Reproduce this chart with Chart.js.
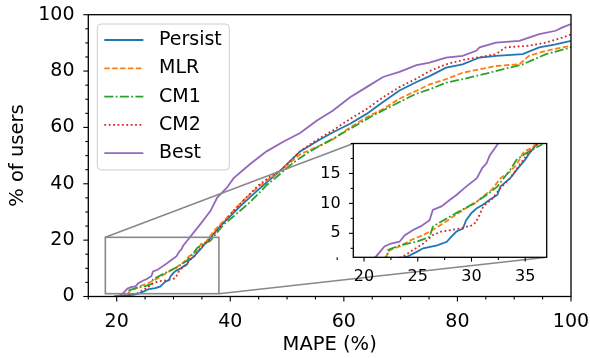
<!DOCTYPE html>
<html><head><meta charset="utf-8">
<script src="https://cdn.jsdelivr.net/npm/chart.js@4.4.0/dist/chart.umd.min.js"></script>
<style>
html,body{margin:0;padding:0;background:#fff;}
#wrap{position:relative;width:590px;height:358px;overflow:hidden;}
#main{position:absolute;left:0;top:0;}
#inset{position:absolute;left:300px;top:130px;z-index:2;}
</style></head><body>
<div id="wrap">
<canvas id="main" width="590" height="358"></canvas>
<canvas id="inset" width="260" height="165"></canvas>
</div>
<script>
// ---- data: [MAPE %, % of users] ----
const seriesNames = ['Persist', 'MLR', 'CM1', 'CM2', 'Best'];
const persist = [[19.8,0],[21.5,0.3],[23.0,0.7],[24.0,1.1],[24.9,1.9],[25.5,2.5],[26.8,3.0],[27.7,3.6],[28.0,4.2],[28.6,5.3],[29.2,5.8],[29.5,7.2],[30.0,8.4],[30.5,9.2],[31.1,9.8],[31.7,10.6],[32.4,11.4],[32.7,12.8],[33.6,14.2],[34.2,15.6],[35.0,17.3],[35.4,18.4],[35.9,19.5],[36.5,20.8],[38.2,25.0],[40.0,28.5],[42.0,32.5],[45.0,38.0],[47.0,41.5],[49.0,45.0],[52.3,51.5],[55.2,55.0],[58.1,58.3],[61.1,61.3],[64.0,64.8],[66.9,69.0],[69.8,73.1],[72.8,76.1],[75.1,78.2],[78.0,81.2],[80.9,82.4],[83.9,84.8],[86.8,85.4],[91.5,86.0],[94.4,88.4],[97.3,89.5],[100,90.7]];
const mlr = [[20.5,0],[22.0,1.0],[22.4,2.2],[23.3,2.8],[24.4,3.9],[25.5,4.7],[26.4,5.6],[27.4,6.7],[28.3,7.8],[29.2,8.9],[30.3,10.0],[31.1,11.2],[31.9,12.3],[32.7,14.2],[33.6,15.3],[34.2,16.5],[34.9,18.7],[35.7,19.3],[37.1,23.2],[39.4,28.0],[42.0,33.5],[45.0,39.0],[47.0,42.0],[49.0,45.0],[52.3,50.5],[55.2,53.0],[58.1,55.8],[61.1,60.0],[64.0,63.6],[66.9,66.5],[69.8,70.2],[72.8,73.0],[75.1,75.3],[78.0,77.1],[80.9,79.4],[86.8,81.8],[90.9,82.4],[92.6,85.4],[95.6,87.2],[100,89.0]];
const cm1 = [[20.0,0],[21.5,0.5],[22.2,1.1],[22.2,2.2],[23.3,3.0],[24.9,3.6],[26.1,4.4],[26.4,6.1],[27.4,7.2],[28.3,8.1],[29.4,9.2],[30.5,10.3],[31.4,11.4],[32.4,12.8],[33.0,14.2],[33.6,15.6],[34.2,17.3],[35.1,18.4],[36.5,19.8],[38.8,25.5],[40.6,28.5],[43.5,33.5],[46.4,39.5],[48.2,42.5],[51.1,47.5],[54.0,51.5],[58.1,56.0],[61.1,59.5],[65.1,64.2],[69.8,69.0],[72.8,72.0],[75.1,73.5],[78.0,75.9],[80.9,77.1],[85.6,79.4],[91.5,82.4],[95.6,86.0],[100,88.4]];
const cm2 = [[20.5,0],[22.5,0.5],[23.6,1.1],[24.3,1.9],[25.5,3.3],[26.4,4.7],[27.2,5.3],[28.9,5.8],[30.2,6.4],[30.6,7.5],[31.1,9.5],[32.0,10.9],[32.7,12.6],[33.6,14.2],[34.5,16.5],[35.3,18.4],[36.1,19.8],[37.5,23.0],[40.0,29.0],[42.0,33.5],[45.0,39.5],[47.0,42.5],[49.0,45.0],[52.3,51.5],[55.2,55.5],[58.1,59.0],[61.1,63.0],[64.0,66.5],[66.9,70.7],[69.8,74.3],[72.8,77.3],[75.1,80.0],[78.0,82.4],[80.9,83.9],[86.8,86.0],[88.5,88.4],[92.6,89.0],[95.6,90.1],[98.5,91.9],[100,93.0]];
const best = [[19.5,0],[20.5,0.4],[21.1,1.1],[21.9,2.8],[22.5,3.3],[23.3,3.6],[23.8,4.7],[24.6,5.6],[25.3,6.2],[26.1,7.2],[26.4,8.9],[27.2,9.5],[28.0,10.6],[28.6,11.4],[29.5,12.8],[30.5,14.2],[31.0,15.9],[31.4,16.7],[31.7,18.0],[32.4,19.8],[34.7,25.6],[36.5,30.3],[37.7,35.1],[39.4,38.6],[40.6,42.0],[43.5,47.0],[46.4,51.5],[49.4,55.0],[52.3,58.0],[55.2,62.4],[58.1,66.0],[61.1,70.7],[64.0,74.3],[66.9,77.9],[69.8,79.7],[72.8,82.1],[75.1,83.0],[78.0,84.8],[80.9,85.4],[83.3,87.2],[83.9,88.4],[86.8,90.1],[90.9,90.7],[92.6,91.9],[94.4,93.1],[97.3,94.3],[98.5,95.5],[100,96.7]];
const seriesData = [persist, mlr, cm1, cm2, best];

const xTicksMain = [20, 40, 60, 80, 100];
const yTicksMain = [0, 20, 40, 60, 80, 100];
const xTicksInset = [20, 25, 30, 35];
const yTicksInset = [5, 10, 15];
const xRangeMain = [15, 100], yRangeMain = [0, 100];
const xRangeInset = [19, 37], yRangeInset = [1, 20];
const zoomRect = [18, 38, 1, 21]; // x0, x1, y0, y1
const xLabel = 'MAPE (%)';
const yLabel = '% of users';

// ---- styles ----
const colors = ['#1f77b4', '#ff7f0e', '#2ca02c', '#d62728', '#9467bd'];
const dashes = [[], [5.5, 2.4], [9, 2.4, 1.8, 2.4], [1.8, 2.6], []];
const FONT = 'DejaVu Sans';
Chart.defaults.font.family = FONT;
Chart.defaults.color = '#000';

function makeDatasets() {
  return seriesData.map((arr, i) => ({
    label: seriesNames[i],
    data: arr.map(([x, y]) => ({x, y})),
    borderColor: colors[i],
    backgroundColor: colors[i],
    borderDash: dashes[i],
    borderWidth: 1.8,
    pointRadius: 0,
    fill: false,
    tension: 0,
    order: seriesNames.length - i
  }));
}

function range(a, b, step) { const r = []; for (let v = a; v <= b + 1e-9; v += step) r.push(+v.toFixed(4)); return r; }
function noPad(s) { s.paddingLeft = 0; s.paddingRight = 0; s.paddingTop = 0; s.paddingBottom = 0; }

function drawFrameAndTicks(chart, xMaj, xMin, yMaj, yMin, majLen, minLen) {
  const ctx = chart.ctx, ca = chart.chartArea, sx = chart.scales.x, sy = chart.scales.y;
  ctx.save();
  ctx.strokeStyle = '#000';
  ctx.lineWidth = 1.1;
  const tick = (s, v, len) => {
    const p = s.getPixelForValue(v);
    ctx.beginPath();
    if (s.isHorizontal()) { ctx.moveTo(p, ca.bottom); ctx.lineTo(p, ca.bottom + len); }
    else { ctx.moveTo(ca.left, p); ctx.lineTo(ca.left - len, p); }
    ctx.stroke();
  };
  xMaj.forEach(v => tick(sx, v, majLen));
  xMin.filter(v => !xMaj.includes(v)).forEach(v => tick(sx, v, minLen));
  yMaj.forEach(v => tick(sy, v, majLen));
  yMin.filter(v => !yMaj.includes(v)).forEach(v => tick(sy, v, minLen));
  ctx.lineWidth = 1.3;
  ctx.strokeRect(ca.left, ca.top, ca.right - ca.left, ca.bottom - ca.top);
  ctx.restore();
}

// ---- inset chart ----
const insetCanvas = document.getElementById('inset');
const insetChart = new Chart(insetCanvas, {
  type: 'line',
  data: {datasets: makeDatasets()},
  options: {
    responsive: false, animation: false, devicePixelRatio: 1,
    layout: {padding: {left: 0, top: 13.5, right: 13.3, bottom: 0}},
    plugins: {legend: {display: false}, tooltip: {enabled: false}},
    scales: {
      x: {
        type: 'linear', min: xRangeInset[0], max: xRangeInset[1],
        afterBuildTicks: s => { s.ticks = xTicksInset.map(v => ({value: v})); },
        afterFit: s => { s.height = 37.7; noPad(s); },
        grid: {display: false, drawTicks: false}, border: {display: false},
        ticks: {padding: 10.4, color: '#000', font: {size: 16}, maxRotation: 0, autoSkip: false, callback: v => String(v)}
      },
      y: {
        type: 'linear', min: yRangeInset[0], max: yRangeInset[1],
        afterBuildTicks: s => { s.ticks = yTicksInset.map(v => ({value: v})); },
        afterFit: s => { s.width = 53.3; noPad(s); },
        grid: {display: false, drawTicks: false}, border: {display: false},
        ticks: {padding: 12.6, color: '#000', font: {size: 16}, autoSkip: false, callback: v => String(v)}
      }
    }
  },
  plugins: [{
    id: 'insetFrame',
    beforeDatasetsDraw(chart) {
      const ca = chart.chartArea, ctx = chart.ctx;
      ctx.save(); ctx.fillStyle = '#fff';
      ctx.fillRect(ca.left, ca.top, ca.right - ca.left, ca.bottom - ca.top);
      ctx.restore();
    },
    afterDraw(chart) {
      drawFrameAndTicks(chart, xTicksInset, range(17.5, 37, 2.5), yTicksInset, range(2.5, 20, 2.5), 4.3, 2.6);
    }
  }]
});

// ---- main chart ----
const mainCanvas = document.getElementById('main');
const mainChart = new Chart(mainCanvas, {
  type: 'line',
  data: {datasets: makeDatasets()},
  options: {
    responsive: false, animation: false, devicePixelRatio: 1,
    layout: {padding: {left: 0, top: 14.7, right: 19, bottom: 0}},
    plugins: {legend: {display: false}, tooltip: {enabled: false}},
    scales: {
      x: {
        type: 'linear', min: xRangeMain[0], max: xRangeMain[1],
        afterBuildTicks: s => { s.ticks = xTicksMain.map(v => ({value: v})); },
        afterFit: s => { s.height = 61.5; noPad(s); },
        grid: {display: false, drawTicks: false}, border: {display: false},
        ticks: {padding: 13.7, color: '#000', font: {size: 19}, maxRotation: 0, autoSkip: false, callback: v => String(v)},
        title: {display: true, text: xLabel, color: '#000', font: {size: 19.5}, padding: {top: 0, bottom: 1}}
      },
      y: {
        type: 'linear', min: yRangeMain[0], max: yRangeMain[1],
        afterBuildTicks: s => { s.ticks = yTicksMain.map(v => ({value: v})); },
        afterFit: s => { s.width = 88.3; noPad(s); },
        grid: {display: false, drawTicks: false}, border: {display: false},
        ticks: {padding: 13.8, color: '#000', font: {size: 19}, autoSkip: false, callback: v => String(v)},
        title: {display: true, text: yLabel, color: '#000', font: {size: 19.5}, padding: {top: 6.6, bottom: 0}}
      }
    }
  },
  plugins: [{
    id: 'mainExtras',
    afterDraw(chart) {
      const ctx = chart.ctx, ca = chart.chartArea, sx = chart.scales.x, sy = chart.scales.y;
      // zoom rectangle + connectors
      const rx0 = sx.getPixelForValue(zoomRect[0]), rx1 = sx.getPixelForValue(zoomRect[1]);
      const ry0 = sy.getPixelForValue(zoomRect[2]), ry1 = sy.getPixelForValue(zoomRect[3]);
      const ia = insetChart.chartArea, ox = insetCanvas.offsetLeft, oy = insetCanvas.offsetTop;
      ctx.save();
      ctx.strokeStyle = '#888888';
      ctx.lineWidth = 1.6;
      ctx.strokeRect(rx0, ry1, rx1 - rx0, ry0 - ry1);
      ctx.beginPath();
      ctx.moveTo(rx0, ry1); ctx.lineTo(ox + ia.left, oy + ia.top);
      ctx.moveTo(rx1, ry0); ctx.lineTo(ox + ia.right, oy + ia.bottom);
      ctx.stroke();
      ctx.restore();

      drawFrameAndTicks(chart, xTicksMain, range(15, 100, 5), yTicksMain, range(0, 100, 5), 5, 3);

      // legend
      ctx.save();
      const bx = ca.left + 9, by = ca.top + 9.3, bw = 132, bh = 146, r = 4;
      ctx.beginPath();
      ctx.moveTo(bx + r, by); ctx.lineTo(bx + bw - r, by); ctx.arcTo(bx + bw, by, bx + bw, by + r, r);
      ctx.lineTo(bx + bw, by + bh - r); ctx.arcTo(bx + bw, by + bh, bx + bw - r, by + bh, r);
      ctx.lineTo(bx + r, by + bh); ctx.arcTo(bx, by + bh, bx, by + bh - r, r);
      ctx.lineTo(bx, by + r); ctx.arcTo(bx, by, bx + r, by, r); ctx.closePath();
      ctx.fillStyle = 'rgba(255,255,255,0.8)'; ctx.fill();
      ctx.strokeStyle = '#cccccc'; ctx.lineWidth = 1; ctx.stroke();
      ctx.font = '19px "' + FONT + '"';
      ctx.textBaseline = 'middle'; ctx.textAlign = 'left';
      chart.data.datasets.forEach((ds, i) => {
        const y = ca.top + 25.3 + i * 28.3;
        ctx.beginPath();
        ctx.setLineDash(ds.borderDash || []);
        ctx.strokeStyle = ds.borderColor; ctx.lineWidth = ds.borderWidth;
        ctx.moveTo(ca.left + 16, y); ctx.lineTo(ca.left + 55, y); ctx.stroke();
        ctx.setLineDash([]);
        ctx.fillStyle = '#000';
        ctx.fillText(ds.label, ca.left + 70.7, y);
      });
      ctx.restore();
    }
  }]
});
</script>
</body></html>
